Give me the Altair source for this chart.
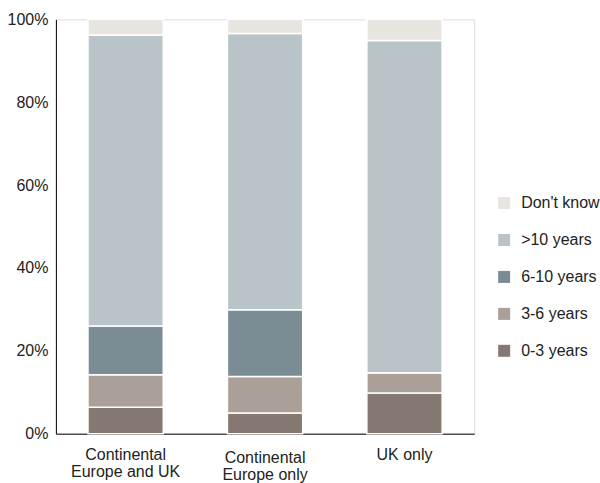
import altair as alt
import pandas as pd

# Survey regions (x categories)
regions = ["Continental Europe and UK", "Continental Europe only", "UK only"]

# Answer groups, listed top of stack first (legend order)
groups = ["Don't know", ">10 years", "6-10 years", "3-6 years", "0-3 years"]
colors = ["#e8e5e0", "#b9c4c8", "#7a8d95", "#aba097", "#857870"]

# Share of respondents per region, in percent
share_0_3 = [6.4, 5.0, 9.8]
share_3_6 = [7.8, 8.8, 4.9]
share_6_10 = [11.8, 16.1, 0.0]
share_10_plus = [70.2, 66.7, 80.2]
share_dont_know = [3.8, 3.4, 5.1]

series = {
    "0-3 years": share_0_3,
    "3-6 years": share_3_6,
    "6-10 years": share_6_10,
    ">10 years": share_10_plus,
    "Don't know": share_dont_know,
}

rows = []
for stack_pos, (grp, vals) in enumerate(series.items()):
    for reg, v in zip(regions, vals):
        rows.append({"region": reg, "group": grp, "share": v / 100.0, "stack_pos": stack_pos})
df = pd.DataFrame(rows)

FONT = "Liberation Sans"
TEXT = "#222222"
FS = 16

chart = (
    alt.Chart(df)
    .mark_bar(stroke="white", strokeWidth=1.5)
    .encode(
        x=alt.X(
            "region:N",
            sort=regions,
            scale=alt.Scale(paddingInner=0.46, paddingOuter=0.23),
            axis=alt.Axis(
                title=None,
                labelAngle=0,
                ticks=False,
                grid=False,
                domainColor="#000000",
                domainWidth=1,
                labelFont=FONT,
                labelFontSize=FS,
                labelColor=TEXT,
                labelLineHeight=17,
                labelBaseline="top",
                labelPadding={
                    "condition": {"test": "datum.value === 'Continental Europe only'", "value": 16},
                    "value": 13,
                },
                labelExpr="split(replace(datum.label, 'Continental ', 'Continental|'), '|')",
            ),
        ),
        y=alt.Y(
            "share:Q",
            stack="zero",
            scale=alt.Scale(domain=[0, 1], nice=False),
            axis=alt.Axis(
                title=None,
                format="%",
                values=[0, 0.2, 0.4, 0.6, 0.8, 1.0],
                ticks=False,
                grid=False,
                domainColor="#000000",
                domainWidth=1,
                labelFont=FONT,
                labelFontSize=FS,
                labelColor=TEXT,
                labelPadding=8,
            ),
        ),
        color=alt.Color(
            "group:N",
            scale=alt.Scale(domain=groups, range=colors),
            legend=alt.Legend(
                title=None,
                orient="none",
                legendX=441,
                legendY=176,
                symbolType="square",
                symbolSize=144,
                symbolStrokeWidth=0,
                labelFont=FONT,
                labelFontSize=FS,
                labelColor=TEXT,
                rowPadding=21,
                labelOffset=9,
            ),
        ),
        order=alt.Order("stack_pos:Q", sort="ascending"),
        tooltip=["region", "group", alt.Tooltip("share:Q", format=".1%")],
    )
    .properties(
        width=419,
        height=415,
        padding={"left": 7, "top": 11, "right": 0, "bottom": 0},
    )
    .configure_view(strokeWidth=0, strokeOpacity=0, stroke="#ffffff")
    .configure_axis(grid=False)
    .configure(background="white")
)

chart.save("out.html", embed_options={"renderer": "svg", "actions": False})
